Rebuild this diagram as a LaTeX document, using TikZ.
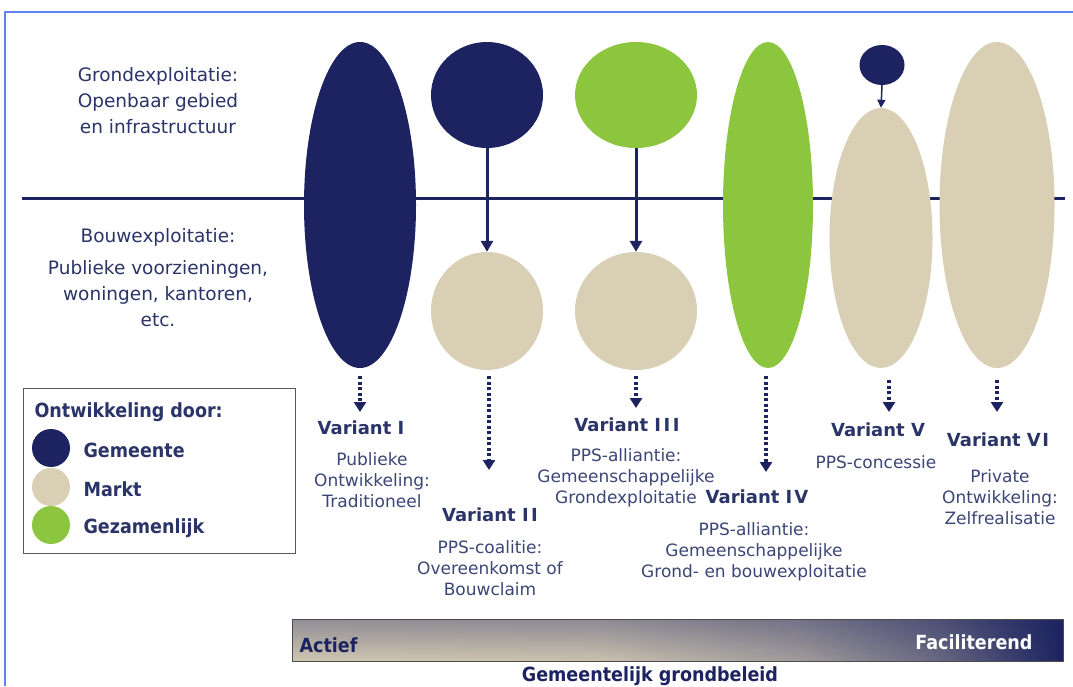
\documentclass[tikz,border=0pt]{standalone}
\usepackage{fontspec}
\setmainfont{DejaVu Sans}
\newfontfamily\condfont{DejaVu Sans Condensed}
\usetikzlibrary{shapes.geometric,arrows.meta,fadings}
\definecolor{navy}{HTML}{1C2360}
\definecolor{beige}{HTML}{D9CFB5}
\definecolor{lime}{HTML}{8CC63F}
\definecolor{txt}{HTML}{2B3468}
\definecolor{lbl}{HTML}{3C4676}
\definecolor{framec}{HTML}{5F82F0}
\pgfdeclarehorizontalshading{barshade}{100bp}{color(0bp)=(beige); color(25bp)=(beige!95!navy); color(45bp)=(beige!92!navy); color(58bp)=(beige!70!navy); color(67bp)=(beige!40!navy); color(75bp)=(navy); color(100bp)=(navy)}
\begin{document}
\begin{tikzpicture}[x=1pt,y=-1pt,
  blob/.style={ellipse, inner sep=0pt, draw=none},
  dotarrow/.style={draw=navy, line width=3.5pt, dash pattern=on 3pt off 2.5pt, -{Triangle[width=12pt,length=10pt]}},
  solidarrow/.style={draw=navy, line width=3pt, -{Triangle[width=12pt,length=11pt]}},
  sidetext/.style={text=txt, align=center, font=\fontsize{18.5}{26}\selectfont},
  vtitle/.style={text=txt, font=\bfseries\fontsize{18}{21}\selectfont},
  vdesc/.style={text=lbl, align=center, font=\fontsize{17}{21}\selectfont},
  legtext/.style={text=txt, anchor=west, font=\condfont\bfseries\fontsize{19.5}{22}\selectfont},
  legdot/.style={circle, inner sep=0pt, minimum size=38pt},
  bartext/.style={font=\condfont\bfseries\fontsize{19.5}{22}\selectfont}
]
\useasboundingbox (0,0) rectangle (1073,686);
\fill[white] (0,0) rectangle (1073,686);
% frame
\draw[framec, line width=1.5pt] (5,686) -- (5,12) -- (1073,12);
% separator line
\draw[navy, line width=3pt] (22,198) -- (1065,198);
% side texts
\node[sidetext] (gt) at (158,101) {Grondexploitatie:\\Openbaar gebied\\en infrastructuur};
\node[sidetext] (bt) at (158,237) {Bouwexploitatie:};
\node[sidetext] (bt2) at (158,294) {Publieke voorzieningen,\\woningen, kantoren,\\etc.};
% blobs
\node[blob, fill=navy, minimum width=112pt, minimum height=326pt] (e1) at (360,205) {};
\node[blob, fill=navy, minimum width=112pt, minimum height=106pt] (e2a) at (487,95) {};
\node[blob, fill=beige, minimum width=112pt, minimum height=118pt] (e2b) at (487,311) {};
\node[blob, fill=lime, minimum width=122pt, minimum height=106pt] (e3a) at (636,95) {};
\node[blob, fill=beige, minimum width=122pt, minimum height=118pt] (e3b) at (636,311) {};
\node[blob, fill=lime, minimum width=90pt, minimum height=326pt] (e4) at (768,205) {};
\node[blob, fill=navy, minimum width=45pt, minimum height=40pt] (e5a) at (882,65) {};
\node[blob, fill=beige, minimum width=103pt, minimum height=260pt] (e5b) at (881,238) {};
\node[blob, fill=beige, minimum width=115pt, minimum height=326pt] (e6) at (997,205) {};
% solid arrows
\draw[solidarrow] (e2a.south) -- (e2b.north);
\draw[solidarrow] (e3a.south) -- (e3b.north);
\draw[navy, line width=1.5pt, -{Triangle[width=8pt,length=8pt]}] (e5a.south) -- (e5b.north);
% variant titles
\node[vtitle] (v1) at (361,428) {Variant I};
\node[vtitle] (v2) at (490,515) {Variant I\kern2.5pt I};
\node[vtitle] (v3) at (627,425) {Variant I\kern2.5pt I\kern2.5pt I};
\node[vtitle] (v4) at (757,497) {Variant I\kern2pt V};
\node[vtitle] (v5) at (878,430) {Variant V};
\node[vtitle] (v6) at (998,440) {Variant V\kern1.5pt I};
% descriptions
\node[vdesc] (d1) at (372,480) {Publieke\\Ontwikkeling:\\Traditioneel};
\node[vdesc] (d2) at (490,568) {PPS-coalitie:\\Overeenkomst of\\Bouwclaim};
\node[vdesc] (d3) at (626,478) {PPS-alliantie:\\Gemeenschappelijke\\Grondexploitatie};
\node[vdesc] (d4) at (754,552) {PPS-alliantie:\\Gemeenschappelijke\\Grond- en bouwexploitatie};
\node[vdesc] (d5) at (876,462) {PPS-concessie};
\node[vdesc] (d6) at (1000,497) {Private\\Ontwikkeling:\\Zelfrealisatie};
% dotted arrows
\coordinate (s1) at (360,376);
\coordinate (s2) at (489,376);
\coordinate (s3) at (636,376);
\coordinate (s4) at (766,376);
\coordinate (s5) at (889,380);
\coordinate (s6) at (997,380);
\coordinate (t1) at (360,412);
\coordinate (t2) at (489,470);
\coordinate (t3) at (636,408);
\coordinate (t4) at (766,472);
\coordinate (t5) at (889,412);
\coordinate (t6) at (997,412);
\foreach \i in {1,...,6} {\draw[dotarrow] (s\i) -- (t\i);}
% legend
\node[draw=gray!70!black, line width=1pt, minimum width=272pt, minimum height=165pt, anchor=north west, inner sep=0pt] (leg) at (23,388) {};
\node[legtext] (lt) at (31,412) {Ontwikkeling door:};
\node[legdot, fill=navy] (c1) at (51,448) {};
\node[legdot, fill=beige] (c2) at (51,487) {};
\node[legdot, fill=lime] (c3) at (51,525) {};
\node[legtext] (l1) at (80,450) {Gemeente};
\node[legtext] (l2) at (80,489) {Markt};
\node[legtext] (l3) at (80,528) {Gezamenlijk};
% bottom bar
\shade[shading=barshade] (292,619) rectangle (1063,661);
\fill[navy, path fading=south, opacity=0.35] (292,619) rectangle (1063,661);
\draw[gray!60!black, line width=1pt] (292,619) rectangle (1063,661);
\node[bartext, anchor=west, text=navy] (act) at (296,645) {Actief};
\node[bartext, anchor=east, text=white] (fac) at (1036,642) {Faciliterend};
\node[bartext, text=navy] (gg) at (650,676) {Gemeentelijk grondbeleid};
\end{tikzpicture}
\end{document}
